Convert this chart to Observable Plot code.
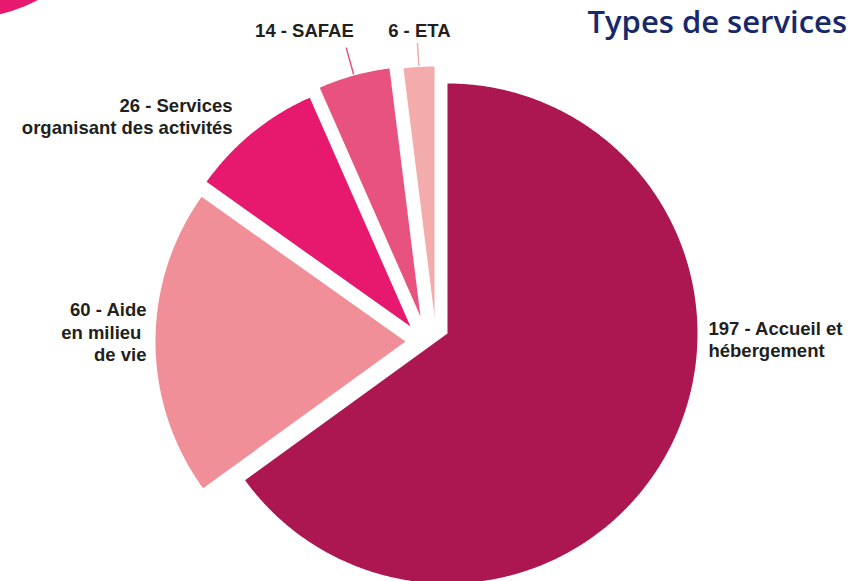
<!DOCTYPE html>
<html><head><meta charset="utf-8">
<script src="https://cdn.jsdelivr.net/npm/d3@7"></script>
<script src="https://cdn.jsdelivr.net/npm/@observablehq/plot@0.6"></script>
<style>
body{margin:0;background:#fff;}
#wrap{position:relative;width:852px;height:581px;overflow:hidden;background:#fff;}
#wrap svg{position:absolute;left:0;top:0;}
#deco{position:absolute;left:-209px;top:-319px;width:338px;height:338px;border-radius:50%;background:#E6196E;}
#title{position:absolute;right:5px;top:0px;font-family:"Open Sans",sans-serif;font-weight:600;font-size:31px;line-height:normal;color:#17296B;white-space:nowrap;}
</style></head><body>
<div id="wrap"><div id="deco"></div><div id="title">Types de services</div></div>
<script>
// ---- data ----
const categories = ["Accueil et hébergement", "Aide en milieu de vie", "Services organisant des activités", "SAFAE", "ETA"];
const values = [197, 60, 26, 14, 6];
const labels = ["197 - Accueil et\nhébergement", "60 - Aide\nen milieu\u00a0\nde vie", "26 - Services\norganisant des activités", "14 - SAFAE", "6 - ETA"];

// ---- style / layout ----
const colors = ["#AC1651", "#F08F97", "#E6196E", "#E8527E", "#F3ABAB"];
const W = 852, H = 581;
const center = {x: 447, y: 333}, radius = 250;
const explode = [[0, 0], [-42, 8], [-37, -7], [-27, -17], [-13, -17]];       // slice shift (px)
const labelPolar = [[91.1, 261], [270.4, 301], [315.4, 306], [334.8, 336], [354.7, 305]]; // [deg, dist] from centre
const labelAnchor = ["start", "end", "end", "middle", "middle"];
const leaderLen = [0, 0, 0, 29, 24];

const arcs = d3.pie().sort(null).startAngle(0).endAngle(2 * Math.PI)(values);
const polar = (cx, cy, a, r) => ({x: cx + r * Math.sin(a), y: cy - r * Math.cos(a)});

const slicePts = [];
arcs.forEach((a, i) => {
  const cx = center.x + explode[i][0], cy = center.y + explode[i][1];
  const name = categories[i];
  slicePts.push({name, x: cx, y: cy});
  const n = Math.max(4, Math.ceil((a.endAngle - a.startAngle) / 0.005));
  for (let k = 0; k <= n; k++) {
    const t = a.startAngle + (a.endAngle - a.startAngle) * k / n;
    const p = polar(cx, cy, t, radius);
    slicePts.push({name, x: p.x, y: p.y});
  }
});

const leaders = arcs.map((a, i) => {
  const cx = center.x + explode[i][0], cy = center.y + explode[i][1];
  const m = (a.startAngle + a.endAngle) / 2;
  const p1 = polar(cx, cy, m, radius + 1), p2 = polar(cx, cy, m, radius + leaderLen[i]);
  return {name: categories[i], x1: p1.x, y1: p1.y, x2: p2.x, y2: p2.y, len: leaderLen[i]};
}).filter(d => d.len > 0);

const lbl = labels.map((t, i) => {
  const p = polar(center.x, center.y, labelPolar[i][0] * Math.PI / 180, labelPolar[i][1]);
  return {text: t, x: p.x, y: p.y, anchor: labelAnchor[i]};
});

const textOpts = {x: "x", y: "y", text: "text", fontFamily: "'Liberation Sans', Arial, sans-serif",
  fontWeight: "bold", fontSize: 18.5, fill: "#231F20", lineHeight: 1.2, lineAnchor: "middle"};

const chart = Plot.plot({
  width: W, height: H, margin: 0,
  x: {domain: [0, W], range: [0, W], axis: null},
  y: {domain: [0, H], range: [0, H], axis: null},
  color: {domain: categories, range: colors},
  style: {background: "transparent", overflow: "visible"},
  marks: [
    Plot.line(slicePts, {x: "x", y: "y", z: "name", fill: "name", stroke: "none", curve: "linear"}),
    Plot.link(leaders, {x1: "x1", y1: "y1", x2: "x2", y2: "y2", stroke: "name", strokeWidth: 1.5}),
    ...["start", "end", "middle"].map(an =>
      Plot.text(lbl.filter(d => d.anchor === an), {...textOpts, textAnchor: an}))
  ]
});
document.getElementById("wrap").prepend(chart);
</script>
</body></html>
